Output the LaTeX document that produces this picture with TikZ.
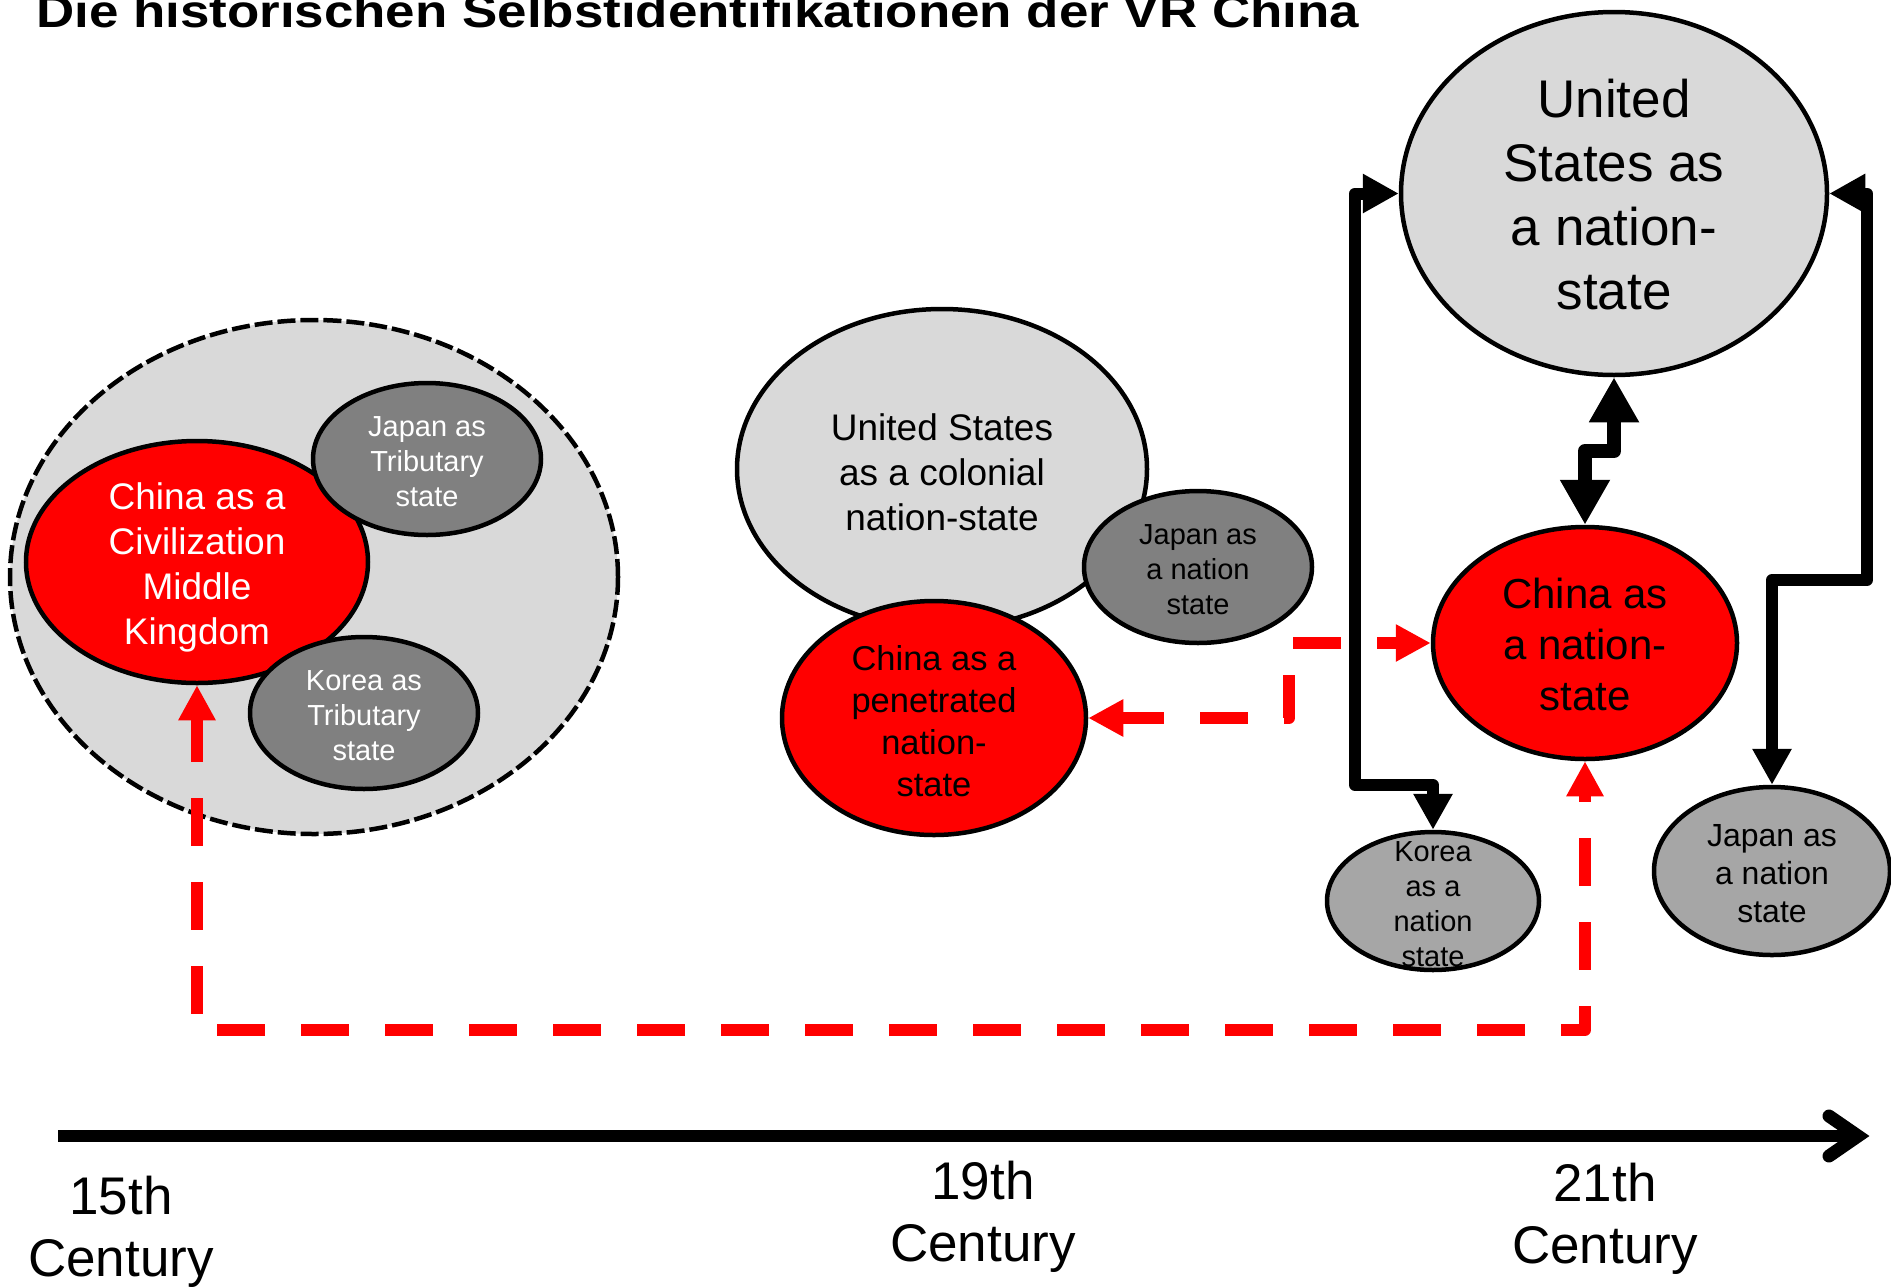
\documentclass[tikz,border=0pt]{standalone}
\usepackage{fontspec}
\setmainfont{Liberation Sans}
\usepackage{graphicx}
\usetikzlibrary{shapes.geometric,arrows.meta}
\definecolor{lgray}{HTML}{D9D9D9}
\definecolor{dgray}{HTML}{808080}
\definecolor{mgray}{HTML}{A6A6A6}
\definecolor{cred}{HTML}{FF0000}
\tikzset{
  ell/.style n args={2}{ellipse, draw=black, line width=4.5pt, inner sep=0pt,
    minimum width=#1pt, minimum height=#2pt},
  txt/.style n args={3}{align=center, text=#3, yshift=-3pt, font=\fontsize{#1}{#2}\selectfont},
  blk/.style={draw=black, line width=12pt, line join=round},
  reddash/.style={draw=cred, line width=12pt, line join=round,
    dash pattern=on 48pt off 36pt},
  rtip/.tip={Triangle[length=35pt,width=35pt]},
  btip/.tip={Triangle[length=36pt,width=37pt]},
  ltip/.tip={Triangle[length=45pt,width=47pt]},
  tl/.style={align=center, font=\fontsize{53}{62}\selectfont}
}
\begin{document}
\begin{tikzpicture}[x=1pt,y=-1pt]
\useasboundingbox[fill=white] (0,0) rectangle (1891,1286);

% title
\node[anchor=base west, inner sep=0pt, font=\bfseries\fontsize{46}{55}\selectfont] (title) at (36,27)
  {\scalebox{1.15}[1]{Die historischen Selbstidentifikationen der VR China}};

% 15th century
\node[ell={608}{514}, fill=lgray, dash pattern=on 18pt off 5pt] (civ) at (314,577) {};
\node[ell={342}{242}, fill=cred,
  label={[txt={37}{45}{white}, yshift=-2pt]center:China as a\\Civilization\\Middle\\Kingdom}] (chinaciv) at (197,562) {};
\node[ell={228}{152}, fill=dgray,
  label={[txt={29}{35}{white}]center:Japan as\\Tributary\\state}] (japantrib) at (427,459) {};
\node[ell={228}{152}, fill=dgray,
  label={[txt={29}{35}{white}]center:Korea as\\Tributary\\state}] (koreatrib) at (364,713) {};

% 19th century
\node[ell={410}{320}, fill=lgray,
  label={[txt={37}{45}{black}]center:United States\\as a colonial\\nation-state}] (uscol) at (942,469) {};
\node[ell={304}{234}, fill=cred,
  label={[txt={34.5}{42}{black}]center:China as a\\penetrated\\nation-\\state}] (chinapen) at (934,718) {};
\node[ell={228}{152}, fill=dgray,
  label={[txt={29}{35}{black}]center:Japan as\\a nation\\state}] (japan19) at (1198,567) {};

% 21st century
\node[ell={426}{363}, fill=lgray,
  label={[txt={53}{64}{black}, yshift=2pt]center:United\\States as\\a nation-\\state}] (us21) at (1614,193.5) {};
\node[ell={304}{232}, fill=cred,
  label={[txt={42}{51}{black}, yshift=2pt]center:China as\\a nation-\\state}] (china21) at (1585,643) {};
\node[ell={212}{138}, fill=mgray,
  label={[txt={29}{35}{black}]center:Korea\\as a\\nation\\state}] (korea21) at (1433,901) {};
\node[ell={236}{168}, fill=mgray,
  label={[txt={32}{38}{black}]center:Japan as\\a nation\\state}] (japan21) at (1772,871) {};

% helper coordinates
\coordinate (lc) at (1355,785);
\coordinate (rc) at (1867,580);
\coordinate (zz) at (0,451);
\coordinate (bot) at (0,1030);
\coordinate (pc) at (1289,0);

% black connectors
\draw[blk, btip-btip] (us21.west) -- (lc |- us21.west) -- (lc) -- (lc -| korea21.north) -- (korea21.north);
\draw[blk, btip-btip] (us21.east) -- (rc |- us21.east) -- (rc) -- (rc -| japan21.north) -- (japan21.north);
\draw[blk, line width=14pt, ltip-ltip] (us21.south) -- (us21.south |- zz) -- (china21.north |- zz) -- (china21.north);

% red dashed connectors
\draw[reddash, dash phase=27pt, rtip-rtip] (china21.west) -- (pc |- china21.west) -- (pc |- chinapen.east) -- (chinapen.east);
\draw[reddash, dash phase=40pt, rtip-rtip] (china21.south) -- (china21.south |- bot) -- (chinaciv.south |- bot) -- (chinaciv.south);

% timeline
\coordinate (t0) at (58,1136);
\coordinate (t1) at (1858,1136);
\draw[line width=12pt] (t0) -- (t1);
\draw[line width=13pt, line cap=round, miter limit=10] (1829,1116) -- (t1) -- (1829,1156);

\node[tl] (c15) at (121,1232) {15th\\Century};
\node[tl] (c19) at (983,1217) {19th\\Century};
\node[tl] (c21) at (1605,1219) {21th\\Century};
\end{tikzpicture}
\end{document}
